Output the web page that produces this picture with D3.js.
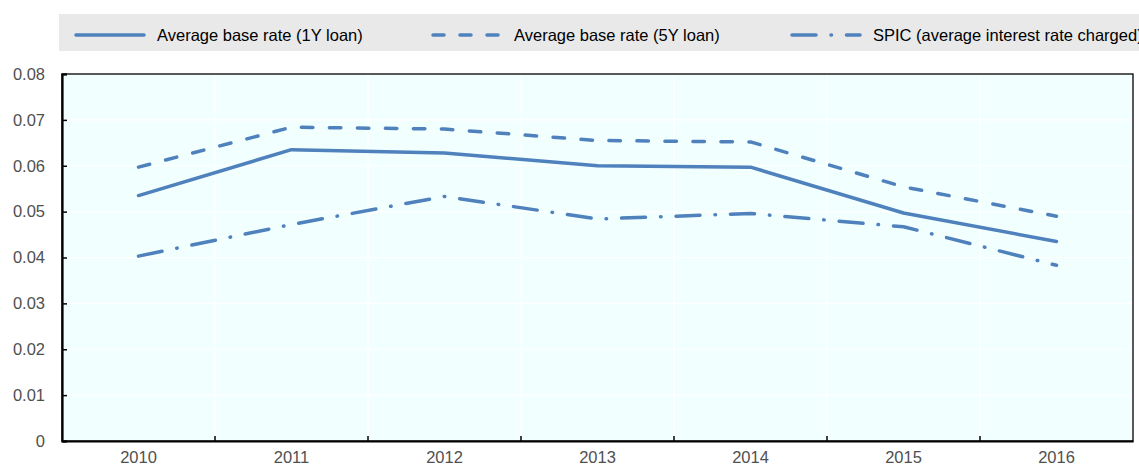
<!DOCTYPE html>
<head>
  <meta charset="utf-8">
  <script src="https://d3js.org/d3.v7.min.js"></script>
  <style>
    body { margin: 0; background: #fff; }
    text { font-family: "Liberation Sans", Arial, sans-serif; }
  </style>
</head>
<body>
<script>
  // values
  var years = ["2010", "2011", "2012", "2013", "2014", "2015", "2016"];
  var base1Y = [0.0535, 0.0635, 0.0628, 0.0600, 0.0597, 0.0497, 0.0435];
  var base5Y = [0.0597, 0.0684, 0.0680, 0.0655, 0.0652, 0.0554, 0.0490];
  var spic   = [0.0403, 0.0472, 0.0533, 0.0484, 0.0496, 0.0467, 0.0383];
  var yTicks = [0, 0.01, 0.02, 0.03, 0.04, 0.05, 0.06, 0.07, 0.08];
  var seriesNames = ["Average base rate (1Y loan)", "Average base rate (5Y loan)", "SPIC (average interest rate charged)"];

  var blue = "#4f81bd";
  var dashes = ["none", "11.5,16.5", "24,15,0.5,15"];
  var series = [base1Y, base5Y, spic];

  var width = 1139, height = 466;
  var margin = {top: 74, right: 6, bottom: 25, left: 62};
  var fs = "16.5px";

  var svg = d3.select("body").append("svg")
    .attr("width", width)
    .attr("height", height);

  var x = d3.scaleBand()
    .domain(years)
    .range([margin.left, width - margin.right]);

  var y = d3.scaleLinear()
    .domain([0, 0.08])
    .range([height - margin.bottom, margin.top]);

  // legend band
  var legendX = [76, 433, 792];
  var legend = svg.append("g");
  legend.append("rect")
    .attr("x", 59).attr("y", 14)
    .attr("width", width - 59).attr("height", 37)
    .attr("fill", "#e9e9e9");

  seriesNames.forEach(function(name, i) {
    legend.append("line")
      .attr("x1", legendX[i]).attr("x2", legendX[i] + 68)
      .attr("y1", 35).attr("y2", 35)
      .attr("stroke", blue)
      .attr("stroke-width", 3.5)
      .attr("stroke-linecap", "round")
      .attr("stroke-dasharray", i == 1 ? "11,16" : (i == 2 ? "24,15,0.5,15" : null));
    legend.append("text")
      .attr("x", legendX[i] + 81).attr("y", 41)
      .attr("font-size", fs)
      .attr("fill", "#000")
      .text(name);
  });

  // plot background
  svg.append("rect")
    .attr("x", margin.left).attr("y", margin.top)
    .attr("width", width - margin.left - margin.right)
    .attr("height", height - margin.top - margin.bottom)
    .attr("fill", "#f2ffff");

  // grid
  svg.append("g").selectAll("line.h")
    .data(yTicks.slice(1, -1)).enter()
    .append("line")
    .attr("x1", margin.left).attr("x2", width - margin.right)
    .attr("y1", function(d) { return y(d); })
    .attr("y2", function(d) { return y(d); })
    .attr("stroke", "#fff").attr("stroke-width", 1.2);

  svg.append("g").selectAll("line.v")
    .data(years.slice(1)).enter()
    .append("line")
    .attr("x1", function(d) { return x(d); })
    .attr("x2", function(d) { return x(d); })
    .attr("y1", margin.top).attr("y2", height - margin.bottom)
    .attr("stroke", "#fff").attr("stroke-width", 1.2);

  // frame
  svg.append("rect")
    .attr("x", margin.left).attr("y", margin.top)
    .attr("width", width - margin.left - margin.right)
    .attr("height", height - margin.top - margin.bottom)
    .attr("fill", "none")
    .attr("stroke", "#000").attr("stroke-width", 1.3);

  // y axis
  var yAxis = svg.append("g")
    .attr("transform", "translate(" + margin.left + ",0)")
    .call(d3.axisRight(y).tickValues(yTicks).tickSize(5).tickFormat(function(d) { return d == 0 ? "0" : d3.format(".2f")(d); }));
  yAxis.select(".domain").attr("stroke-width", 2.2);
  yAxis.selectAll(".tick line").attr("stroke-width", 1.5);
  yAxis.selectAll(".tick text")
    .attr("x", -17)
    .attr("text-anchor", "end")
    .attr("font-size", fs)
    .attr("font-family", "Liberation Sans, Arial, sans-serif")
    .attr("fill", "#505050");

  // x axis
  var xAxis = svg.append("g")
    .attr("transform", "translate(0," + (height - margin.bottom) + ")")
    .call(d3.axisBottom(x).tickSize(0).tickPadding(10));
  xAxis.select(".domain").attr("stroke-width", 2.2);
  xAxis.selectAll(".tick text")
    .attr("font-size", fs)
    .attr("font-family", "Liberation Sans, Arial, sans-serif")
    .attr("fill", "#505050");

  svg.append("g").selectAll("line.xt")
    .data(years.slice(1)).enter()
    .append("line")
    .attr("x1", function(d) { return x(d); })
    .attr("x2", function(d) { return x(d); })
    .attr("y1", height - margin.bottom)
    .attr("y2", height - margin.bottom - 5)
    .attr("stroke", "#000").attr("stroke-width", 1.5);

  // lines
  var line = d3.line()
    .x(function(d, i) { return x(years[i]) + x.bandwidth() / 2; })
    .y(function(d) { return y(d); });

  svg.append("g").selectAll("path")
    .data(series).enter()
    .append("path")
    .attr("d", line)
    .attr("fill", "none")
    .attr("stroke", blue)
    .attr("stroke-width", 3.5)
    .attr("stroke-linecap", "round")
    .attr("stroke-linejoin", "round")
    .attr("stroke-dasharray", function(d, i) { return dashes[i] == "none" ? null : dashes[i]; });
</script>
</body>
